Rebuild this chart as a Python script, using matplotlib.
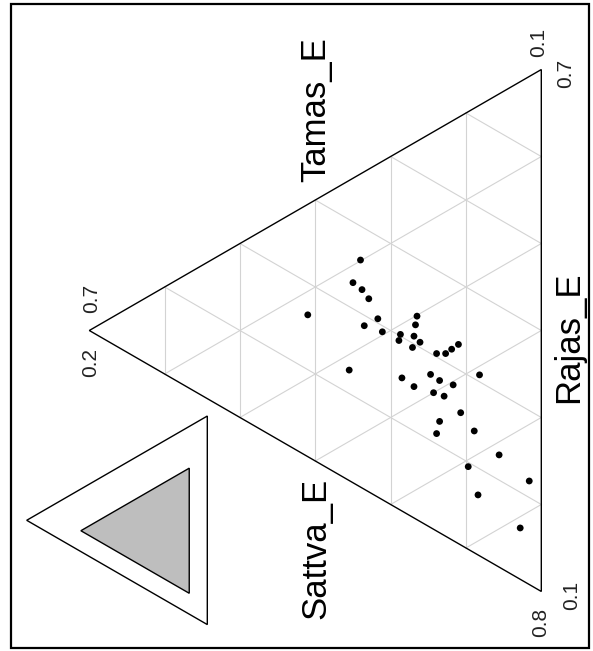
import numpy as np
import matplotlib
matplotlib.use("Agg")
import matplotlib.pyplot as plt
from matplotlib.patches import Polygon, Rectangle

plt.rcParams['font.family'] = ['Liberation Sans', 'DejaVu Sans']

# Composition of each sample
tamas = [0.340, 0.350, 0.338, 0.329, 0.410, 0.317, 0.335, 0.265, 0.267, 0.311,
         0.287, 0.289, 0.269, 0.261, 0.271, 0.239, 0.227, 0.219, 0.210, 0.355,
         0.285, 0.247, 0.235, 0.182, 0.269, 0.217, 0.243, 0.229, 0.207, 0.235,
         0.239, 0.189, 0.156, 0.197, 0.116, 0.184, 0.128]
rajas = [0.361, 0.330, 0.328, 0.322, 0.263, 0.305, 0.288, 0.334, 0.323, 0.293,
         0.302, 0.294, 0.309, 0.306, 0.295, 0.304, 0.310, 0.319, 0.329, 0.227,
         0.253, 0.276, 0.275, 0.308, 0.251, 0.279, 0.257, 0.260, 0.252, 0.228,
         0.212, 0.240, 0.229, 0.195, 0.219, 0.169, 0.159]
sattva = [0.299, 0.320, 0.334, 0.349, 0.327, 0.378, 0.377, 0.401, 0.410, 0.396,
          0.411, 0.417, 0.422, 0.433, 0.434, 0.457, 0.463, 0.462, 0.461, 0.418,
          0.462, 0.477, 0.490, 0.510, 0.480, 0.504, 0.500, 0.511, 0.541, 0.537,
          0.549, 0.571, 0.615, 0.608, 0.665, 0.647, 0.713]

# Zoomed region: lower limits of (tamas, rajas, sattva) and the range width
lower = [0.1, 0.1, 0.2]
span = 0.6
axis_names = ["Tamas_E", "Rajas_E", "Sattva_E"]


# ternary -> page coords (plot is turned 90 degrees, tamas corner on the left)
def to_xy(t, r, s, lo, width, apex_x, right_x, mid_y):
    p = (np.asarray(t, float) - lo[0]) / width
    q = (np.asarray(r, float) - lo[1]) / width
    w = (np.asarray(s, float) - lo[2]) / width
    tot = p + q + w
    p, q = p / tot, q / tot
    h = right_x - apex_x
    side = 2 * h / np.sqrt(3)
    x = right_x - p * h
    y = mid_y + side / 2 - (q + p / 2) * side
    return x, y


main = dict(lo=lower, width=span, apex_x=89.3, right_x=541.3, mid_y=330.5)
inset = dict(lo=[0, 0, 0], width=1.0, apex_x=26.7, right_x=207.3, mid_y=520.3)

fig = plt.figure(figsize=(5.93, 6.51), dpi=100)
ax = fig.add_axes([0, 0, 1, 1])
ax.set_xlim(0, 593)
ax.set_ylim(651, 0)
ax.axis('off')

# corners of the zoomed region
hi = [1 - lower[1] - lower[2], 1 - lower[0] - lower[2], 1 - lower[0] - lower[1]]
corners = [(hi[0], lower[1], lower[2]),
           (lower[0], hi[1], lower[2]),
           (lower[0], lower[1], hi[2])]

# grid lines, 0.1 apart
for i in range(3):
    j, k = [m for m in range(3) if m != i]
    for step in range(1, 6):
        lev = lower[i] + 0.1 * step
        a = [0, 0, 0]; b = [0, 0, 0]
        a[i] = lev; a[j] = lower[j]; a[k] = 1 - lev - lower[j]
        b[i] = lev; b[k] = lower[k]; b[j] = 1 - lev - lower[k]
        x, y = to_xy([a[0], b[0]], [a[1], b[1]], [a[2], b[2]], **main)
        ax.plot(x, y, color='#d3d3d3', lw=0.8, zorder=1)

# outer triangle
cx, cy = to_xy([c[0] for c in corners], [c[1] for c in corners], [c[2] for c in corners], **main)
ax.add_patch(Polygon(np.column_stack([cx, cy]), closed=True, fill=False,
                     edgecolor='black', lw=1.0, zorder=2))

# points
px, py = to_xy(tamas, rajas, sattva, **main)
ax.scatter(px, py, s=24, color='black', edgecolors='none', zorder=3)

# axis titles
ax.text(316, 110, axis_names[0], rotation=90, fontsize=25, ha='center', va='center')
ax.text(569, 337, axis_names[1], rotation=90, fontsize=25, ha='center', va='center')
ax.text(316, 548, axis_names[2], rotation=90, fontsize=25, ha='center', va='center')

# corner values
fmt = lambda v: f"{v:.1f}"
lab_kw = dict(rotation=90, fontsize=15, ha='center', va='center', color='#222222')
ax.text(cx[0] + 2, cy[0] - 32, fmt(hi[0]), **lab_kw)
ax.text(cx[0] + 1, cy[0] + 32, fmt(lower[2]), **lab_kw)
ax.text(cx[1] - 3, cy[1] - 27, fmt(lower[0]), **lab_kw)
ax.text(cx[1] + 24, cy[1] + 4, fmt(hi[1]), **lab_kw)
ax.text(cx[2] - 1, cy[2] + 31, fmt(hi[2]), **lab_kw)
ax.text(cx[2] + 30, cy[2] + 4, fmt(lower[1]), **lab_kw)

# inset: full triangle with the zoomed region shaded
full = [(1, 0, 0), (0, 1, 0), (0, 0, 1)]
fx, fy = to_xy([c[0] for c in full], [c[1] for c in full], [c[2] for c in full], **inset)
ax.add_patch(Polygon(np.column_stack([fx, fy]), closed=True, fill=False,
                     edgecolor='black', lw=1.0))
gx, gy = to_xy([c[0] for c in corners], [c[1] for c in corners], [c[2] for c in corners], **inset)
ax.add_patch(Polygon(np.column_stack([gx, gy]), closed=True, facecolor='#bebebe',
                     edgecolor='black', lw=1.0))

# frame
ax.add_patch(Rectangle((11, 4), 578, 644, fill=False, edgecolor='black', lw=1.6))

fig.savefig("out.png", dpi=100)
